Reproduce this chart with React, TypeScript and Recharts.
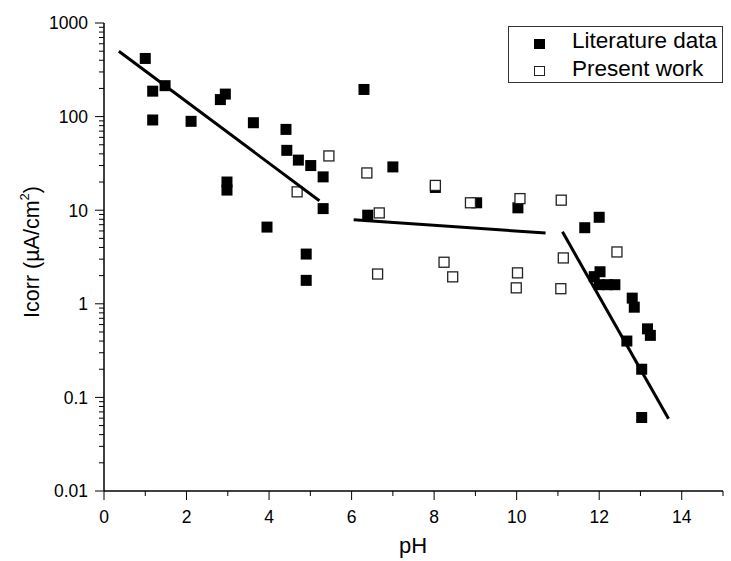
import React from 'react';
import { ScatterChart, Scatter, XAxis, YAxis, Legend, Label } from 'recharts';

// ---- data ----
const literaturePH = [
  1.0, 1.18, 1.48, 1.18, 2.11, 2.82, 2.94, 2.98, 2.98, 3.62, 3.95, 4.41, 4.43, 4.71,
  5.01, 5.31, 5.31, 4.9, 4.9, 6.3, 6.39, 7.0, 8.03, 9.03, 10.03, 11.65, 12.0, 11.88,
  12.02, 12.0, 12.2, 12.38, 12.8, 12.85, 12.67, 13.17, 13.24, 13.03, 13.03,
];
const literatureIcorr = [
  418, 187, 214, 92, 89, 152, 174, 20, 16.4, 86, 6.6, 73, 43.6, 34.3,
  30, 22.7, 10.4, 3.4, 1.78, 195, 8.85, 29, 17.5, 12.0, 10.6, 6.5, 8.4, 1.95,
  2.2, 1.6, 1.6, 1.6, 1.15, 0.92, 0.4, 0.54, 0.46, 0.2, 0.061,
];

const presentPH = [
  4.68, 5.45, 6.37, 6.67, 6.63, 8.03, 8.24, 8.45, 8.88, 10.08, 10.02, 9.99, 11.08, 11.13, 11.07, 12.43,
];
const presentIcorr = [
  15.7, 38, 25, 9.35, 2.08, 18.4, 2.78, 1.94, 12.0, 13.3, 2.14, 1.48, 12.8, 3.09, 1.45, 3.58,
];

const fitAcidPH = [0.36, 5.22];
const fitAcidIcorr = [500, 12.6];
const fitNeutralPH = [6.05, 10.7];
const fitNeutralIcorr = [7.9, 5.7];
const fitAlkalinePH = [11.11, 13.68];
const fitAlkalineIcorr = [5.87, 0.059];

const xTicks = [0, 1, 2, 3, 4, 5, 6, 7, 8, 9, 10, 11, 12, 13, 14, 15];
const xLabelled = [0, 2, 4, 6, 8, 10, 12, 14];
const yMajorTicks = [0.01, 0.1, 1, 10, 100, 1000];
const yMinorMultipliers = [2, 3, 4, 5, 6, 7, 8, 9];

const zip = (xs: number[], ys: number[]) => xs.map((x, i) => ({ x, y: ys[i] }));

const literature = zip(literaturePH, literatureIcorr);
const present = zip(presentPH, presentIcorr);
const fitAcid = zip(fitAcidPH, fitAcidIcorr);
const fitNeutral = zip(fitNeutralPH, fitNeutralIcorr);
const fitAlkaline = zip(fitAlkalinePH, fitAlkalineIcorr);

const yTicks: number[] = [];
yMajorTicks.forEach((m, i) => {
  yTicks.push(m);
  if (i < yMajorTicks.length - 1) yMinorMultipliers.forEach((k) => yTicks.push(+(m * k).toPrecision(6)));
});

const FONT = "Arial, 'Liberation Sans', Helvetica, sans-serif";

const isMajorY = (v: number) => yMajorTicks.some((m) => Math.abs(m - v) / m < 1e-6);

const YTick = (props: any) => {
  const { x, y, payload } = props;
  const v = payload.value;
  const major = isMajorY(v);
  return (
    <g>
      <line x1={x} x2={x - (major ? 9 : 5)} y1={y} y2={y} stroke="#000" strokeWidth={1} />
      {major && (
        <text x={x - 16} y={y} dy="0.36em" textAnchor="end" fontSize={17.5} fontFamily={FONT} fill="#000">
          {String(v)}
        </text>
      )}
    </g>
  );
};

const XTick = (props: any) => {
  const { x, y, payload } = props;
  const v = payload.value;
  const major = xLabelled.includes(v);
  return (
    <g>
      <line x1={x} x2={x} y1={y} y2={y + (major ? 9 : 5)} stroke="#000" strokeWidth={1} />
      {major && (
        <text x={x} y={y + 32} textAnchor="middle" fontSize={17.5} fontFamily={FONT} fill="#000">
          {String(v)}
        </text>
      )}
    </g>
  );
};

const FilledSquare = (props: any) => {
  const { cx, cy } = props;
  if (cx == null || cy == null) return <g />;
  return <rect x={cx - 5.5} y={cy - 5.5} width={11} height={11} fill="#000" />;
};

const OpenSquare = (props: any) => {
  const { cx, cy } = props;
  if (cx == null || cy == null) return <g />;
  return <rect x={cx - 5} y={cy - 5} width={10} height={10} fill="#fff" stroke="#222" strokeWidth={1.3} />;
};

const NoShape = () => <g />;

const LegendBox = () => (
  <div
    style={{
      width: 215,
      height: 57,
      border: '1px solid #333',
      boxSizing: 'border-box',
      background: '#fff',
      fontFamily: FONT,
      fontSize: 22.5,
      color: '#000',
      position: 'relative',
    }}
  >
    <div style={{ position: 'absolute', left: 25, top: 12, width: 11, height: 10, background: '#000' }} />
    <div style={{ position: 'absolute', left: 63, top: 2, lineHeight: '24px', whiteSpace: 'nowrap' }}>Literature data</div>
    <div
      style={{
        position: 'absolute',
        left: 25,
        top: 39,
        width: 11,
        height: 10,
        boxSizing: 'border-box',
        border: '1px solid #222',
        background: '#fff',
      }}
    />
    <div style={{ position: 'absolute', left: 63, top: 30, lineHeight: '24px', whiteSpace: 'nowrap' }}>Present work</div>
  </div>
);

const YTitle = () => (
  <text
    transform="translate(32, 252) rotate(-90)"
    textAnchor="middle"
    dominantBaseline="central"
    fontSize={21.5}
    fontFamily={FONT}
    fill="#000"
  >
    <tspan>Icorr (µA/cm</tspan>
    <tspan dy={-8} fontSize={13}>2</tspan>
    <tspan dy={8}>)</tspan>
  </text>
);

const XTitle = () => (
  <text x={413} y={553} textAnchor="middle" fontSize={22} fontFamily={FONT} fill="#000">
    pH
  </text>
);

export default function App() {
  return (
    <div style={{ position: 'absolute', left: 0, top: 0, width: 731, height: 561, background: '#fff' }}>
      <ScatterChart width={731} height={561} margin={{ top: 23, right: 8, bottom: 0, left: 0 }}>
        <XAxis
          dataKey="x"
          type="number"
          domain={[0, 15]}
          ticks={xTicks}
          interval={0}
          tick={<XTick />}
          tickLine={false}
          tickSize={0}
          tickMargin={0}
          height={70}
          axisLine={{ stroke: '#000', strokeWidth: 1.5 }}
          allowDataOverflow
        >
          <Label content={<XTitle />} />
        </XAxis>
        <YAxis
          dataKey="y"
          type="number"
          scale="log"
          domain={[0.01, 1000]}
          ticks={yTicks}
          interval={0}
          tick={<YTick />}
          tickLine={false}
          tickSize={0}
          tickMargin={0}
          width={104}
          axisLine={{ stroke: '#000', strokeWidth: 1.5 }}
          allowDataOverflow
        >
          <Label content={<YTitle />} />
        </YAxis>
        <Legend
          layout="vertical"
          align="center"
          verticalAlign="middle"
          content={<LegendBox />}
          wrapperStyle={{ left: 508, top: 26, width: 215, height: 57 }}
        />
        <Scatter name="Literature data" data={literature} shape={<FilledSquare />} isAnimationActive={false} />
        <Scatter name="Present work" data={present} shape={<OpenSquare />} isAnimationActive={false} />
        <Scatter
          name="fitAcid"
          data={fitAcid}
          shape={<NoShape />}
          line={{ stroke: '#000', strokeWidth: 3 }}
          legendType="none"
          isAnimationActive={false}
        />
        <Scatter
          name="fitNeutral"
          data={fitNeutral}
          shape={<NoShape />}
          line={{ stroke: '#000', strokeWidth: 3 }}
          legendType="none"
          isAnimationActive={false}
        />
        <Scatter
          name="fitAlkaline"
          data={fitAlkaline}
          shape={<NoShape />}
          line={{ stroke: '#000', strokeWidth: 3 }}
          legendType="none"
          isAnimationActive={false}
        />
      </ScatterChart>
    </div>
  );
}
